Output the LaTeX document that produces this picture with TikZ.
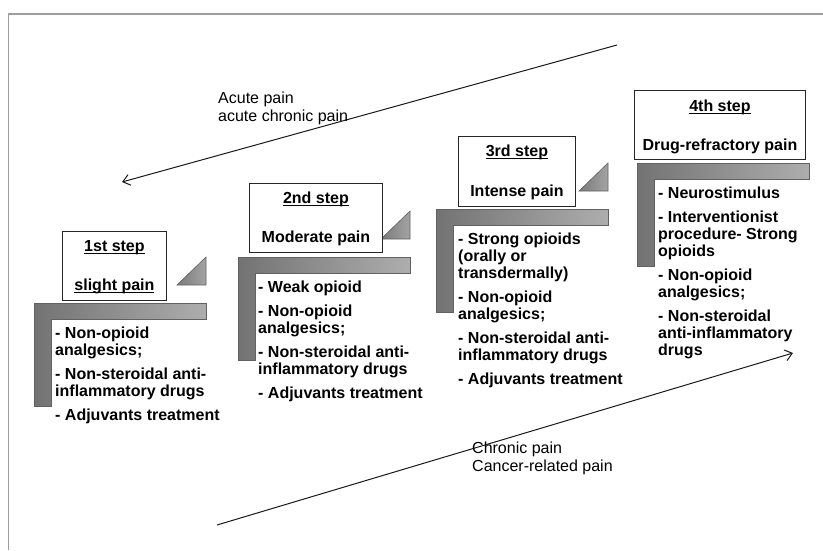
\documentclass[tikz,border=0pt]{standalone}
\usepackage{fontspec}
\setmainfont{Liberation Sans}
\usetikzlibrary{arrows.meta,calc}

% underline drawn close to the baseline, crossing descenders
\newsavebox\ulbox
\newcommand{\stepul}[1]{\sbox\ulbox{#1}\rlap{\rule[-2.3pt]{\wd\ulbox}{1.1pt}}\usebox\ulbox}

\tikzset{
  frameline/.style={draw=black!38, line width=1.4pt},
  headbox/.style={draw=black!85, line width=0.9pt, fill=white, inner sep=0pt, anchor=north west},
  headtext/.style={font=\fontsize{16}{17}\selectfont\bfseries, text height=11.5pt, text depth=0pt, inner sep=0pt, anchor=center},
  druglist/.style={font=\fontsize{16}{17}\selectfont\bfseries, align=left, anchor=north west, inner sep=0pt},
  notetext/.style={font=\fontsize{16}{18}\selectfont, align=left, anchor=north west, inner sep=0pt},
  stepbar/.style={draw=black!62, line width=0.6pt, left color=black!55, right color=black!32},
  wedge/.style={draw=black!62, line width=0.6pt, left color=black!52, right color=black!36},
  trend/.style={draw=black!90, line width=1pt, -{Straight Barb[length=7pt,width=11pt]}},
}

% L-shaped bar with its corner at (#1,#2)
\newcommand{\drawstepbar}[2]{%
  \path[stepbar] (#1,#2) -- ++(172,0) -- ++(0,16) -- ++(-155,0) -- ++(0,87) -- ++(-17,0) -- cycle;}
% small right triangle whose right angle sits at (#1,#2)
\newcommand{\drawwedge}[2]{%
  \path[wedge] (#1,#2) -- ++(-29,0) -- ++(29,-28) -- cycle;}

\begin{document}
\begin{tikzpicture}[x=1pt, y=-1pt]
\useasboundingbox (0,0) rectangle (823,550);

% frame
\draw[frameline] (8.5,550) -- (8.5,14) -- (823,14);

% trend arrows
\coordinate (acuteA) at (617,45);
\coordinate (acuteB) at (122,182);
\draw[trend] (acuteA) -- (acuteB);
\node[notetext] (acute) at (218,91.5) {\rule{0pt}{12pt}Acute pain\\acute chronic pain};

\coordinate (chronA) at (217,525);
\coordinate (chronB) at (793,353);
\draw[trend] (chronA) -- (chronB);
\node[notetext] (chronic) at (472,441.5) {\rule{0pt}{12pt}Chronic pain\\Cancer-related pain};

% step 1
\drawstepbar{34}{303}
\drawwedge{206}{285}
\node[headbox, minimum width=104pt, minimum height=69pt] (h1) at (62,231) {};
\node[headtext] (h1a) at ($(h1.north)+(0,15)$) {\stepul{1st step}};
\node[headtext] (h1b) at ($(h1.north)+(0,54)$) {\stepul{slight pain}};
\node[druglist] (t1) at (55,326.5) {\rule{0pt}{12pt}- Non-opioid\\analgesics;\\[7pt]- Non-steroidal anti-\\inflammatory drugs\\[7pt]- Adjuvants treatment};

% step 2
\drawstepbar{238}{257}
\drawwedge{410}{239}
\node[headbox, minimum width=133pt, minimum height=69pt] (h2) at (249,183) {};
\node[headtext] (h2a) at ($(h2.north)+(0,15)$) {\stepul{2nd step}};
\node[headtext] (h2b) at ($(h2.north)+(0,54)$) {Moderate pain};
\node[druglist] (t2) at (258,280.5) {\rule{0pt}{12pt}- Weak opioid\\[7pt]- Non-opioid\\analgesics;\\[7pt]- Non-steroidal anti-\\inflammatory drugs\\[7pt]- Adjuvants treatment};

% step 3
\drawstepbar{436}{209}
\drawwedge{608}{191}
\node[headbox, minimum width=117pt, minimum height=70pt] (h3) at (458,136) {};
\node[headtext] (h3a) at ($(h3.north)+(0,15)$) {\stepul{3rd step}};
\node[headtext] (h3b) at ($(h3.north)+(0,55)$) {Intense pain};
\node[druglist] (t3) at (458,232.5) {\rule{0pt}{12pt}- Strong opioids\\(orally or\\transdermally)\\[7pt]- Non-opioid\\analgesics;\\[7pt]- Non-steroidal anti-\\inflammatory drugs\\[7pt]- Adjuvants treatment};

% step 4
\drawstepbar{637}{163}
\node[headbox, minimum width=171pt, minimum height=69pt] (h4) at (634,90) {};
\node[headtext] (h4a) at ($(h4.north)+(0,16)$) {\stepul{4th step}};
\node[headtext] (h4b) at ($(h4.north)+(0,55)$) {Drug-refractory pain};
\node[druglist] (t4) at (658,186.5) {\rule{0pt}{12pt}- Neurostimulus\\[7pt]- Interventionist\\procedure- Strong\\opioids\\[7pt]- Non-opioid\\analgesics;\\[7pt]- Non-steroidal\\anti-inflammatory\\drugs};

\end{tikzpicture}
\end{document}
